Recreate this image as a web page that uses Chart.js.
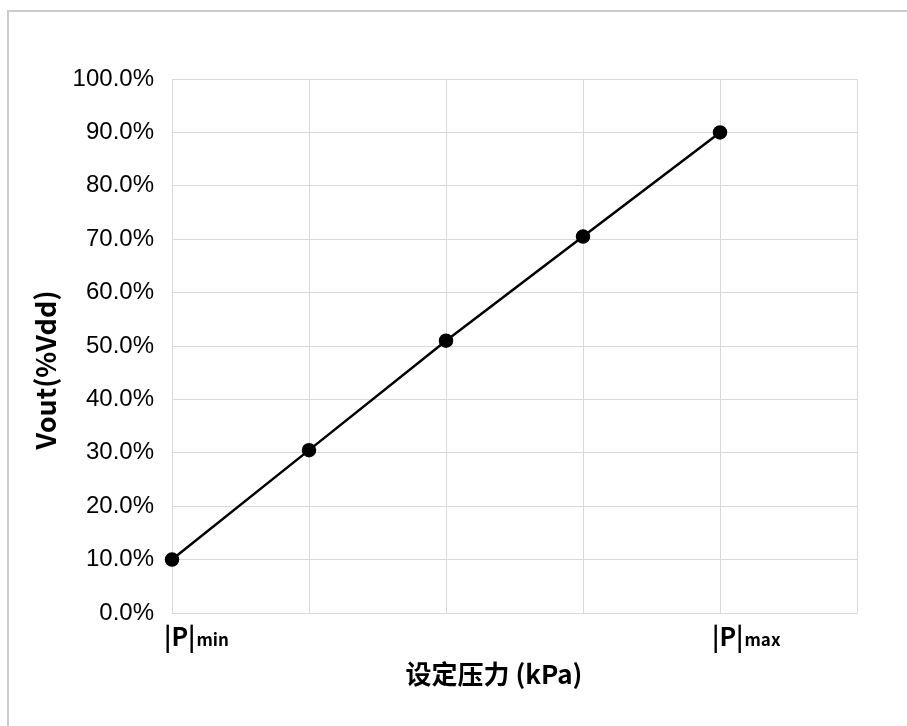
<!DOCTYPE html>
<html>
<head>
<meta charset="utf-8">
<script src="https://cdn.jsdelivr.net/npm/chart.js@4/dist/chart.umd.min.js"></script>
<style>
html,body{margin:0;padding:0;background:#fff;overflow:hidden;}
#wrap{position:relative;width:907px;height:726px;}
</style>
</head>
<body>
<div id="wrap"><canvas id="c" width="907" height="726"></canvas></div>
<script>
const categories = ['|P|min', '', '', '', '|P|max', ''];
const labelMain = ['|P|', '', '', '', '|P|', ''];
const labelSub = ['min', '', '', '', 'max', ''];
const vout = [0.10, 0.305, 0.51, 0.705, 0.90, null];
const yTitle = 'Vout(%Vdd)';
const xTitle = '设定压力 (kPa)';

const cjk = '"Noto Sans CJK SC", "Noto Sans", sans-serif';

const overlay = {
  id: 'overlay',
  beforeDraw(chart) {
    const ctx = chart.ctx;
    ctx.save();
    ctx.fillStyle = '#fff';
    ctx.fillRect(0, 0, chart.width, chart.height);
    ctx.strokeStyle = '#cccccc';
    ctx.lineWidth = 2;
    ctx.beginPath();
    ctx.moveTo(8, 726);
    ctx.lineTo(8, 11);
    ctx.lineTo(907, 11);
    ctx.stroke();
    ctx.restore();
  },
  afterDraw(chart) {
    const ctx = chart.ctx;
    const xs = chart.scales.x;
    ctx.save();
    ctx.fillStyle = '#000';
    ctx.textBaseline = 'alphabetic';
    ctx.textAlign = 'left';
    categories.forEach((c, i) => {
      if (!labelMain[i]) return;
      const px = xs.getPixelForValue(i) - 8;
      ctx.font = 'bold 25px ' + cjk;
      ctx.fillText(labelMain[i], px, 646);
      const w = ctx.measureText(labelMain[i]).width;
      ctx.font = 'bold 17px ' + cjk;
      ctx.fillText(labelSub[i], px + w + 1, 646);
    });
    ctx.font = 'bold 26px ' + cjk;
    ctx.textAlign = 'center';
    ctx.fillText(xTitle, 494, 684);
    // y axis title
    ctx.save();
    ctx.translate(46, 370);
    ctx.rotate(-Math.PI / 2);
    ctx.textAlign = 'center';
    ctx.textBaseline = 'middle';
    ctx.font = 'bold 27px ' + cjk;
    ctx.fillText(yTitle, 0, 0);
    ctx.restore();
    ctx.restore();
  }
};

new Chart(document.getElementById('c'), {
  type: 'line',
  data: {
    labels: categories,
    datasets: [{
      data: vout,
      borderColor: '#000',
      backgroundColor: '#000',
      borderWidth: 2.5,
      pointRadius: 6,
      pointHoverRadius: 6,
      pointBackgroundColor: '#000',
      pointBorderColor: '#000',
      tension: 0,
      fill: false
    }]
  },
  options: {
    responsive: false,
    animation: false,
    devicePixelRatio: 1,
    layout: { padding: { left: 0, top: 79, right: 50, bottom: 113 } },
    plugins: { legend: { display: false }, tooltip: { enabled: false } },
    scales: {
      x: {
        type: 'category',
        offset: false,
        grid: { color: '#d9d9d9', lineWidth: 1, drawTicks: false },
        border: { color: '#d9d9d9', width: 1 },
        ticks: { display: false },
        afterFit(s) { s.height = 0; }
      },
      y: {
        min: 0, max: 1,
        afterFit(s) { s.width = 172; },
        grid: { color: '#d9d9d9', lineWidth: 1, drawTicks: false },
        border: { color: '#d9d9d9', width: 1 },
        ticks: {
          stepSize: 0.1,
          padding: 18,
          color: '#000',
          font: { family: '"Liberation Sans", Arial, sans-serif', size: 24 },
          callback: v => (v * 100).toFixed(1) + '%'
        },
        title: { display: false }
      }
    }
  },
  plugins: [overlay]
});
</script>
</body>
</html>
